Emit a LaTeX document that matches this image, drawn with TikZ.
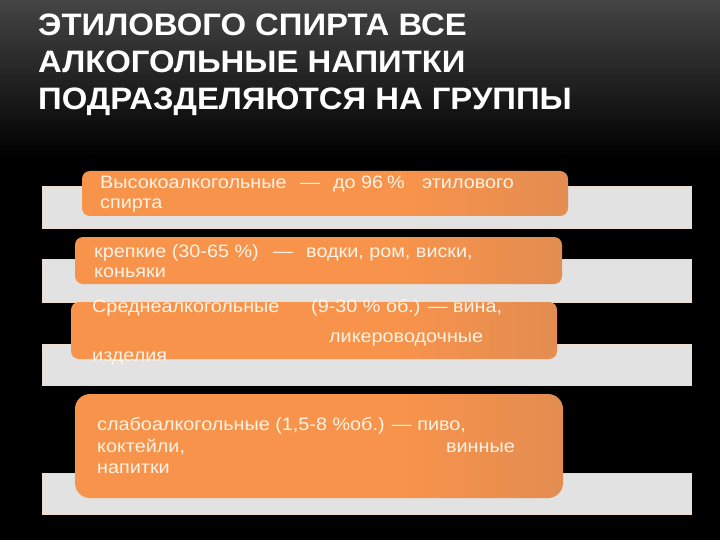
\documentclass[tikz,border=0pt]{standalone}
\usepackage{fontspec}
\setmainfont{Liberation Sans}
\newfontfamily\boxfont[FakeStretch=1.1]{Liberation Sans}
\newfontfamily\ttlfont[FakeStretch=1.06]{Liberation Sans}
\definecolor{org}{HTML}{F8934B}
\definecolor{brn}{HTML}{C4845A}
\definecolor{barfill}{HTML}{E2E2E2}
\definecolor{barline}{HTML}{EFD9C8}
\definecolor{txt}{HTML}{FFF3E6}
\definecolor{bgtop}{HTML}{444444}
\pgfdeclarehorizontalshading{boxshade}{100bp}{color(0bp)=(org); color(58bp)=(org); color(100bp)=(brn)}
\begin{document}
\begin{tikzpicture}[x=1pt,y=-1pt,
  graybar/.style={fill=barfill, draw=barline, line width=0.7pt},
  obox/.style={shading=boxshade, rounded corners=8pt},
  obigbox/.style={shading=boxshade, rounded corners=15pt},
  btxt/.style={anchor=base west, inner sep=0pt, text=txt, font=\boxfont\fontsize{18}{20}\selectfont},
  btxte/.style={btxt, anchor=base east},
  ttl/.style={anchor=base west, inner sep=0pt, text=white, font=\ttlfont\fontsize{31}{36}\selectfont\bfseries}]
\useasboundingbox (0,0) rectangle (720,540);
\fill[black] (0,0) rectangle (720,540);
\foreach \i in {0,...,31} {
  \pgfmathsetmacro\p{100*\i/31}
  \fill[black!\p!bgtop] (0,\i*5) rectangle (720,\i*5+5.5);
}
% title
\node[ttl] (t1) at (38,36) {ЭТИЛОВОГО СПИРТА ВСЕ};
\node[ttl] (t2) at (38,73) {АЛКОГОЛЬНЫЕ НАПИТКИ};
\node[ttl] (t3) at (38,110) {ПОДРАЗДЕЛЯЮТСЯ НА ГРУППЫ};
% gray bars
\path[graybar] (42,186) rectangle (691,228);
\path[graybar] (42,259) rectangle (691,302);
\path[graybar] (42,344) rectangle (691,385);
\path[graybar] (42,473) rectangle (691,514);
% orange boxes
\shade[obox] (82,171) rectangle (568,216);
\shade[obox] (75,237) rectangle (562,284);
\shade[obox] (71,302) rectangle (557,359);
\shade[obigbox] (75,394) rectangle (563,498);
% box 1 text
\node[btxt] (a1) at (100,189) {Высокоалкогольные};
\node[btxt] (a2) at (300,189) {—};
\node[btxt] (a3) at (333,189) {до};
\node[btxt] (a4) at (361,189) {96};
\node[btxt] (a5) at (387,189) {\%};
\node[btxt] (a6) at (422,189) {этилового};
\node[btxt] (a7) at (100,209) {спирта};
% box 2 text
\node[btxt] (b1) at (94,258) {крепкие (30-65 \%)};
\node[btxt] (b2) at (273,258) {—};
\node[btxt] (b3) at (306,258) {водки, ром, виски,};
\node[btxt] (b4) at (94,277) {коньяки};
% box 3 text
\node[btxt] (c1) at (92,312) {Среднеалкогольные};
\node[btxt] (c2) at (311,312) {(9-30 \% об.) — вина,};
\node[btxt] (c3) at (329,342) {ликероводочные};
\node[btxt] (c4) at (92,361) {изделия};
% box 4 text
\node[btxt] (d1) at (97,430) {слабоалкогольные (1,5-8 \%об.) — пиво,};
\node[btxt] (d2) at (97,452) {коктейли,};
\node[btxte] (d3) at (515,452) {винные};
\node[btxt] (d4) at (97,473) {напитки};
\end{tikzpicture}
\end{document}
